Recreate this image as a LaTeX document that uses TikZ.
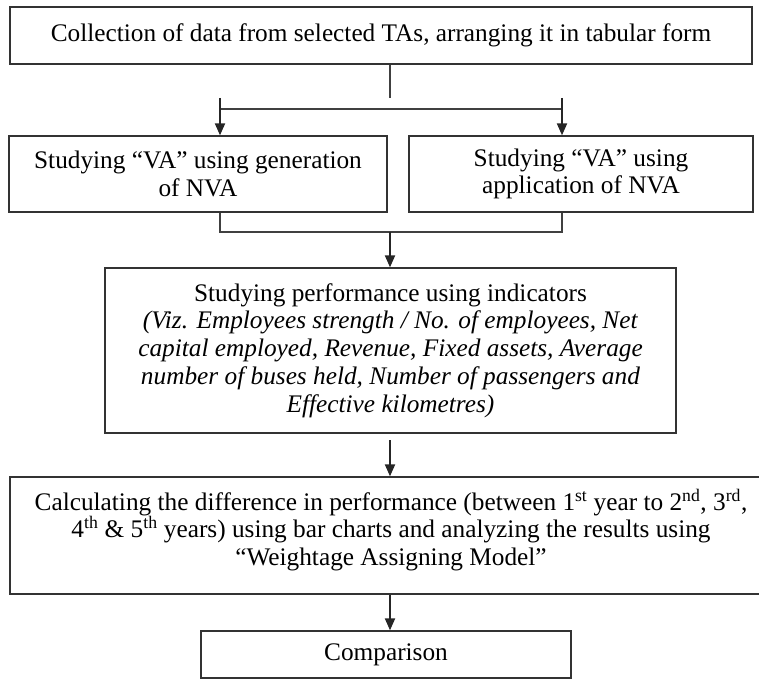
\documentclass[tikz,border=0pt]{standalone}
\usepackage{fontspec}
\setmainfont{Liberation Serif}
\usetikzlibrary{arrows.meta}
\begin{document}
\begin{tikzpicture}[x=1pt,y=-1pt,
  box/.style={draw=black!80, line width=1.3pt, inner sep=0pt, align=center},
  txt/.style={inner sep=0pt, align=center, font=\fontsize{25.3}{27.8}\selectfont},
  arr/.style={draw=black!85, line width=2pt, -{Triangle[length=12pt,width=10pt]}},
  ln/.style={draw=black!75, line width=1.3pt}]
\useasboundingbox (0,0) rectangle (759,679);
% boxes
\node[box, txt, minimum width=742pt, minimum height=57pt] (top) at (381,35.5)
  {Collection of data from selected TAs, arranging it in tabular form};
\node[box, txt, minimum width=378pt, minimum height=76pt] (gen) at (198,174)
  {Studying “VA” using generation\\of NVA};
\node[box, txt, minimum width=344pt, minimum height=76pt] (app) at (581,174)
  {Studying “VA” using\\application of NVA};
\node[box, txt, minimum width=571pt, minimum height=165pt] (mid) at (390.5,350.5)
  {Studying performance using indicators\\
   \textit{(Viz. Employees strength / No. of employees, Net}\\
   \textit{capital employed, Revenue, Fixed assets, Average}\\
   \textit{number of buses held, Number of passengers and}\\
   \textit{Effective kilometres)}};
\node[box, minimum width=751pt, minimum height=117pt] (calc) at (385.5,535.5) {};
\node[txt] (calctext) at (391,530)
  {Calculating the difference in performance (between 1\textsuperscript{st} year to 2\textsuperscript{nd}, 3\textsuperscript{rd},\\
   4\textsuperscript{th} \& 5\textsuperscript{th} years) using bar charts and analyzing the results using\\
   “Weightage Assigning Model”};
\node[box, txt, minimum width=370pt, minimum height=47pt] (cmp) at (386,654.5) {Comparison};
% connectors
\coordinate (c1) at (390,98);
\coordinate (hl) at (220,109);
\coordinate (hr) at (562,109);
\coordinate (al) at (220,98);
\coordinate (ar) at (562,98);
\draw[ln] (top.south -| c1) -- (c1);
\draw[ln] (hl) -- (hr);
\draw[arr] (al) -- (al |- gen.north);
\draw[arr] (ar) -- (ar |- app.north);
\coordinate (bl) at (220,232);
\coordinate (br) at (562,232);
\coordinate (bm) at (390,232);
\draw[ln] (bl |- gen.south) -- (bl) -- (br) -- (br |- app.south);
\draw[arr] (bm) -- (bm |- mid.north);
\coordinate (m2) at (390,440);
\draw[arr] (m2) -- (m2 |- calc.north);
\draw[arr] (calc.south -| m2) -- (m2 |- cmp.north);
\end{tikzpicture}
\end{document}
